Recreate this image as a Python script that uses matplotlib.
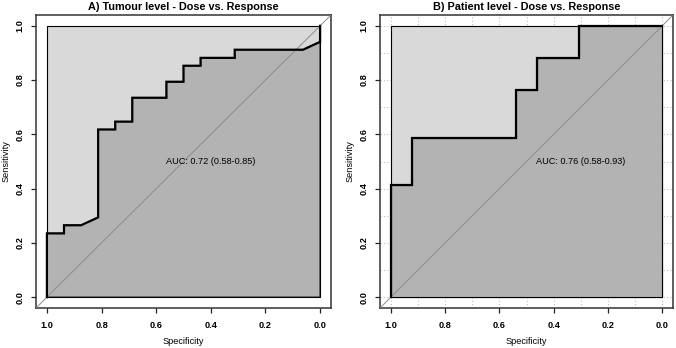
import numpy as np
from matplotlib import pyplot as plt

plt.rcParams['font.family'] = ['Liberation Sans', 'DejaVu Sans']

# Panel A - tumour level ROC curve
tumour_spec = [1.0, 1.0, 0.9375, 0.9375, 0.875, 0.8125, 0.8125, 0.75, 0.75, 0.6875, 0.6875,
               0.5625, 0.5625, 0.5, 0.5, 0.4375, 0.4375, 0.3125, 0.3125, 0.0625, 0.0, 0.0]
tumour_sens = [0.0, 0.235, 0.235, 0.265, 0.265, 0.294, 0.618, 0.618, 0.647, 0.647, 0.735,
               0.735, 0.794, 0.794, 0.853, 0.853, 0.882, 0.882, 0.912, 0.912, 0.941, 1.0]
tumour_auc = 'AUC: 0.72 (0.58-0.85)'
tumour_title = 'A) Tumour level - Dose vs. Response'

# Panel B - patient level ROC curve
patient_spec = [1.0, 1.0, 0.923, 0.923, 0.538, 0.538, 0.462, 0.462, 0.308, 0.308, 0.0]
patient_sens = [0.0, 0.412, 0.412, 0.588, 0.588, 0.765, 0.765, 0.882, 0.882, 1.0, 1.0]
patient_auc = 'AUC: 0.76 (0.58-0.93)'
patient_title = 'B) Patient level - Dose vs. Response'

# full ROC space (max AUC polygon)
max_spec = [1.0, 1.0, 0.0, 0.0]
max_sens = [0.0, 1.0, 1.0, 0.0]

ticks = [0.0, 0.2, 0.4, 0.6, 0.8, 1.0]
tick_labels = ['0.0', '0.2', '0.4', '0.6', '0.8', '1.0']


def roc_panel(ax, spec, sens, auc_text, auc_x, title, grid=False):
    ax.set_xlim(1.04, -0.04)
    ax.set_ylim(-0.04, 1.04)

    if grid:
        minor = np.arange(0, 1.01, 0.1)
        ax.set_xticks(minor, minor=True)
        ax.set_yticks(minor, minor=True)
        ax.tick_params(which='minor', length=0)
        ax.grid(which='both', color='#bdbdbd', linestyle=(0, (1, 2)), linewidth=0.8, zorder=0)
        ax.set_axisbelow(True)

    ax.fill(max_spec, max_sens, facecolor='#d9d9d9', edgecolor='black', linewidth=0.8, zorder=1)
    ax.fill(list(spec) + [0.0, 1.0], list(sens) + [0.0, 0.0], facecolor='#b3b3b3',
            edgecolor='black', linewidth=0.8, zorder=2)
    ax.axline((1.0, 0.0), (0.0, 1.0), color='#8c8c8c', linewidth=0.7, zorder=3)
    ax.plot(spec, sens, color='black', linewidth=1.6, zorder=4, solid_joinstyle='miter')

    ax.text(auc_x, 0.5, auc_text, ha='left', va='center', fontsize=6.6, zorder=5)

    ax.set_xticks(ticks)
    ax.set_xticklabels(tick_labels, fontsize=6.6, fontweight='bold')
    ax.set_yticks(ticks)
    ax.set_yticklabels(tick_labels, fontsize=6.6, fontweight='bold', rotation=90, va='center')
    ax.tick_params(axis='x', length=3.6, width=0.9, pad=5.5, color='#222222')
    ax.tick_params(axis='y', length=3.6, width=0.9, pad=4.5, color='#222222')
    ax.set_xlabel('Specificity', fontsize=6.6, labelpad=5)
    ax.set_ylabel('Sensitivity', fontsize=6.6, labelpad=4)
    ax.set_title(title, fontsize=7.8, fontweight='bold', pad=3.5)
    for s in ax.spines.values():
        s.set_linewidth(1.1)
        s.set_color('#333333')


def main():
    fig = plt.figure(figsize=(6.76, 3.48), dpi=100)
    W, H = 676, 348
    ax1 = fig.add_axes([36 / W, 1 - 308 / H, 295 / W, 293 / H])
    ax2 = fig.add_axes([380 / W, 1 - 308 / H, 293 / W, 293 / H])

    roc_panel(ax1, tumour_spec, tumour_sens, tumour_auc, 0.565, tumour_title)
    roc_panel(ax2, patient_spec, patient_sens, patient_auc, 0.465, patient_title, grid=True)

    fig.savefig('out.png', dpi=100)


if __name__ == '__main__':
    main()
